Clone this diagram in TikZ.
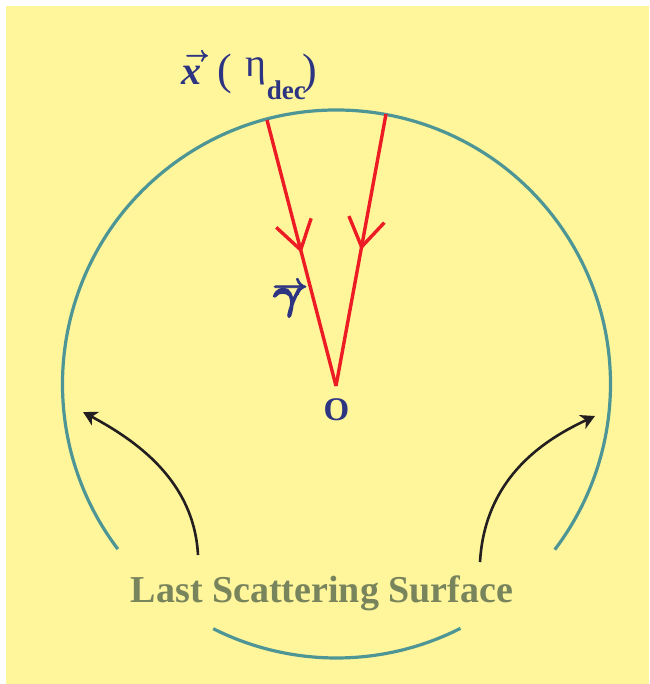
\documentclass[tikz,border=0pt]{standalone}
\usepackage{fontspec}
\usepackage{graphicx}
\setmainfont{Liberation Serif}
\usetikzlibrary{arrows.meta,decorations.markings}
\definecolor{bgyellow}{RGB}{255,245,155}
\definecolor{lssteal}{RGB}{78,150,150}
\definecolor{raycol}{RGB}{237,28,36}
\definecolor{navy}{RGB}{45,52,130}
\definecolor{olivegray}{RGB}{120,132,92}
\definecolor{arrowblack}{RGB}{35,31,32}
% heavier glyphs: fill and stroke the outline
\newcommand{\heavy}[2]{\special{pdf:literal direct 2 Tr #1 w}#2\special{pdf:literal direct 0 Tr}}
\newcommand{\boldarrowglyph}{{\fontencoding{OMS}\fontfamily{cmsy}\fontseries{b}\fontshape{n}\fontsize{20}{20}\selectfont\heavy{0.5}{\char"21}}}
\newcommand{\boldgammaglyph}{{\fontencoding{OML}\fontfamily{cmm}\fontseries{b}\fontshape{it}\fontsize{20}{20}\selectfont\heavy{0.7}{\char"0D}}}
% glyph with an arrow above it: #1 glyph, #2 horizontal shift, #3 raise, #4 arrow scale
\newcommand{\arrowover}[4]{\rlap{\hspace{#2}\raisebox{#3}{\scalebox{#4}{\boldarrowglyph}}}{#1}}
\begin{document}
\begin{tikzpicture}[x=1pt,y=1pt,
  surface/.style={draw=lssteal,line width=3.2pt},
  ray/.style={draw=raycol,line width=3.4pt,postaction={decorate},
    decoration={markings,mark=at position 0.5 with {\arrow{Straight Barb[length=28pt,width=36pt]}}}},
  pointer/.style={draw=arrowblack,line width=2.6pt,-{Stealth[length=14pt,width=15pt,inset=4pt]}},
  lbl/.style={text=navy,inner sep=0pt},
]
\useasboundingbox (0,0) rectangle (649,-684);
\fill[bgyellow] (6,-6) rectangle (649,-684);

% last scattering surface (circle, broken behind the caption)
\coordinate (c) at (336.5,-384);
\draw[surface] (c) ++(217.05:274) arc[start angle=217.05,end angle=-37.2,radius=274];
\draw[surface] (c) ++(243.25:274) arc[start angle=243.25,end angle=296.9,radius=274];

% points and labels
\coordinate (p1) at (267,-120);
\coordinate (p2) at (386,-114);
\coordinate (apex) at (336,-386);

\node[lbl,anchor=base west] (xlab) at (181,-85)
  {\arrowover{\fontsize{40}{42}\selectfont\bfseries\itshape x}{4pt}{24pt}{1}\hspace{16pt}%
   {\fontsize{44}{46}\selectfont(}\hspace{14pt}%
   \raisebox{8pt}{\fontsize{40}{42}\selectfont η}%
   \raisebox{-15pt}{\fontsize{27}{28}\selectfont\bfseries dec}\hspace{-3pt}%
   {\fontsize{44}{46}\selectfont)}};
\node[lbl,anchor=base west] (glab) at (273,-308)
  {\arrowover{\scalebox{2.1}{\boldgammaglyph}}{-1pt}{13.5pt}{1.5}};
\node[lbl,anchor=base,font=\fontsize{33}{35}\selectfont\bfseries] (olab) at (336.5,-420) {O};

\draw[ray] (p1) -- (apex);
\draw[ray] (p2) -- (apex);

% caption and pointers
\node[text=olivegray,anchor=base,inner sep=0pt,font=\fontsize{38}{40}\selectfont\bfseries] (lss) at (322,-602) {Last Scattering Surface};
\coordinate (la) at (198,-555);
\coordinate (lb) at (83,-412);
\coordinate (ra) at (480,-562);
\coordinate (rb) at (595,-416);
\draw[pointer] (la) .. controls (194,-480) and (135,-440) .. (lb);
\draw[pointer] (ra) .. controls (485,-475) and (548,-438) .. (rb);
\end{tikzpicture}
\end{document}
